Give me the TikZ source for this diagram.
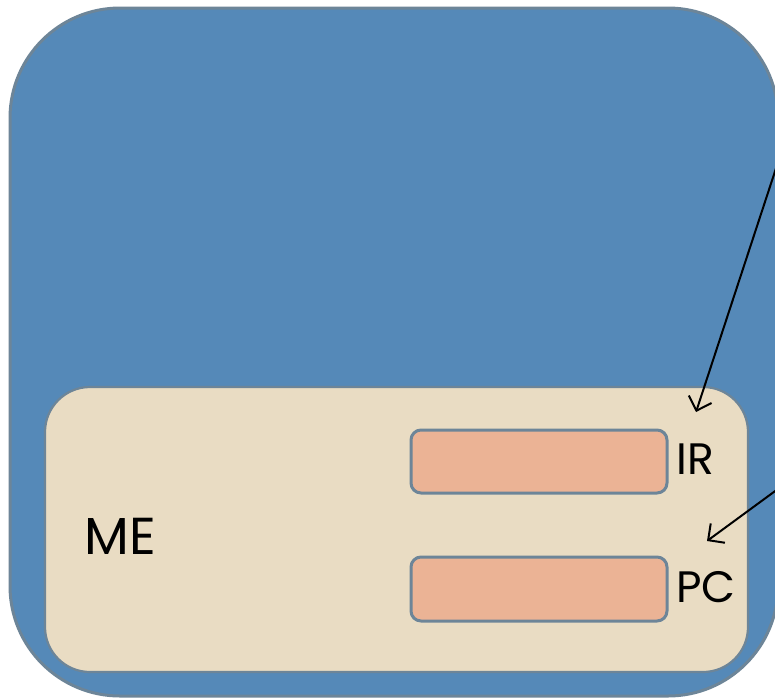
\documentclass[tikz,border=0pt]{standalone}
\usepackage{fontspec}
\setmainfont{Poppins}
\usetikzlibrary{arrows.meta}
\definecolor{bluefill}{HTML}{5589B8}
\definecolor{edgegray}{HTML}{6D8598}
\definecolor{beige}{HTML}{E9DCC3}
\definecolor{salmon}{HTML}{EBB395}
\tikzset{
  outerbox/.style={draw=edgegray, line width=3pt, fill=bluefill, rounded corners=110pt},
  innerbox/.style={draw=edgegray, line width=2.2pt, fill=beige, rounded corners=45pt},
  regbox/.style={draw=edgegray, line width=3pt, fill=salmon, rounded corners=10pt},
  lbl/.style={font=\fontsize{44}{48}\selectfont, inner sep=0pt},
  ptr/.style={-{Straight Barb[length=12pt,width=24pt,line width=2pt]}, line width=2pt, black}
}
\begin{document}
\begin{tikzpicture}[x=1pt,y=-1pt]
\useasboundingbox (0,0) rectangle (775,697);
\clip (0,0) rectangle (775,697);
\fill[white] (0,0) rectangle (775,697);
\draw[outerbox] (10,8) rectangle (778,696);
\draw[innerbox] (45,387) rectangle (748,672);
\node[regbox, minimum width=256pt, minimum height=63pt, inner sep=0pt] (ir) at (539,461.5) {};
\node[regbox, minimum width=256pt, minimum height=64pt, inner sep=0pt] (pc) at (539,589) {};
\node[lbl, anchor=west] (irl) at (676,459) {IR};
\node[lbl, anchor=west] (pcl) at (676,587) {PC};
\node[lbl, font=\fontsize{52}{56}\selectfont] (mel) at (120,536) {ME};
\coordinate (a1s) at (782,150);
\coordinate (a1e) at (696,412);
\coordinate (a2s) at (782,486);
\coordinate (a2e) at (707,541);
\draw[ptr] (a1s) -- (a1e);
\draw[ptr] (a2s) -- (a2e);
\end{tikzpicture}
\end{document}
